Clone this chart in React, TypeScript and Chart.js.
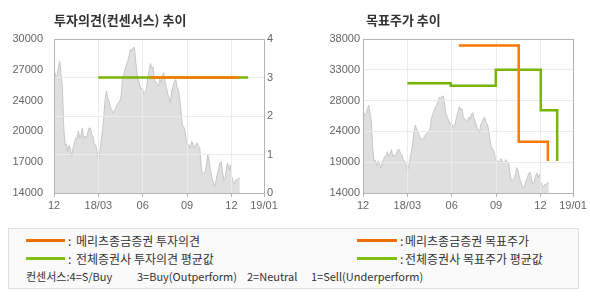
import React, { useEffect, useRef } from 'react';
import { Chart, registerables } from 'chart.js';

Chart.register(...registerables);

// ---- axis ticks (x in months since Dec 2017) ----
const X_TICKS = [0, 3, 6, 9, 12, 14.2];
const X_TICK_LABELS = ['12', '18/03', '06', '09', '12', '19/01'];
const OPINION_TICKS = [0, 1, 2, 3, 4];
const OPINION_TICK_LABELS = ['0', '1', '2', '3', '4'];
const LEFT_PRICE_TICKS = [14000, 17200, 20400, 23600, 26800, 30000];
const LEFT_PRICE_TICK_LABELS = ['14000', '17000', '20000', '24000', '27000', '30000'];
const RIGHT_PRICE_TICKS = [14000, 18800, 23600, 28400, 33200, 38000];
const RIGHT_PRICE_TICK_LABELS = ['14000', '19000', '24000', '28000', '33000', '38000'];

// ---- stock price (sampled every PRICE_STEP months starting at PRICE_START) ----
const PRICE_START = 0.025;
const PRICE_STEP = 0.0902;
const PRICES = [
  26750, 26050, 26250, 27000, 27700, 26300, 25100, 20900, 19000, 19100, 18300,
  18950, 18650, 17800, 18650, 19200, 19700, 19700, 20450, 19700, 20050, 20750,
  19700, 19900, 19700, 20250, 20750, 20750, 20050, 19900, 19000, 19000, 18300,
  17450, 18150, 19350, 20400, 21800, 23700, 24600, 23900, 23550, 22850, 22650,
  22300, 22500, 22850, 23200, 23350, 23550, 24050, 25600, 26300, 26850, 27350,
  27700, 28250, 28950, 28750, 29100, 29100, 27700, 26300, 25800, 25250, 24750,
  24950, 24250,
  24400, 24900, 25950, 26650, 27450, 27000, 27100, 25600, 25600, 25250, 25100,
  25800, 25450, 26300, 26500, 25600, 24950, 24250, 23900, 23350, 24600, 25100,
  25600, 25800, 24950, 24750, 23700, 22300, 20900, 20900, 20400, 19350, 19000,
  19000, 18650,
  19350, 19000, 18650, 19000, 19200, 18850, 18650, 16900, 15900, 16050, 16250,
  16900, 17950, 17450, 16400, 15700, 15200, 14650, 15200, 15900, 16400, 17100,
  17250, 16250, 15350, 15550, 16600, 17100, 16400, 16900, 15700, 15200, 14900,
  15350, 15350, 15550, 15550,
];

// ---- investment opinion (4=S/Buy ... 1=Sell) ----
const MERITZ_OPINION_X = [6.48, 12.5];
const MERITZ_OPINION = [3, 3];
const CONSENSUS_OPINION_X = [3.0, 13.13];
const CONSENSUS_OPINION = [3, 3];

// ---- target price (value changes at each date) ----
const MERITZ_TARGET_X = [6.48, 10.53, 12.5];
const MERITZ_TARGET = [37000, 22000, 19000];
const CONSENSUS_TARGET_X = [3.0, 5.93, 8.98, 12.02, 13.13];
const CONSENSUS_TARGET = [31100, 30700, 33200, 26900, 19000];

const ORANGE = '#ff7800';
const GREEN = '#77b500';
const LEGEND_ORANGE = '#ec6d00';
const LEGEND_GREEN = '#80c010';
const GRID = '#ebebeb';
const BORDER = '#b4b4b4';
const TICK_FONT = { family: 'Liberation Sans', size: 11 };
const TICK_COLOR = '#666';

const zip = (xs: number[], ys: number[]) => xs.map((x, i) => ({ x, y: ys[i] }));
const priceData = () => PRICES.map((y, i) => ({ x: PRICE_START + i * PRICE_STEP, y }));

const gridOverArea = {
  id: 'gridOverArea',
  afterDatasetDraw(chart: any, args: any) {
    if (args.index !== 0) return;
    Object.values(chart.scales).forEach((s: any) => {
      if (s.options.grid && s.options.grid.display) {
        chart.ctx.save();
        s.drawGrid(chart.chartArea);
        chart.ctx.restore();
      }
    });
  },
  afterDraw(chart: any) {
    const { left, top, right, bottom } = chart.chartArea;
    const ctx = chart.ctx;
    ctx.save();
    ctx.strokeStyle = BORDER;
    ctx.lineWidth = 1;
    ctx.strokeRect(Math.round(left) + 0.5, Math.round(top) + 0.5, Math.round(right - left), Math.round(bottom - top));
    ctx.restore();
  },
};

const xScale = () => ({
  type: 'linear',
  min: 0,
  max: 14.2,
  afterBuildTicks: (a: any) => {
    a.ticks = X_TICKS.map((value) => ({ value }));
  },
  afterFit: (s: any) => {
    s.height = 22;
  },
  ticks: {
    callback: (_v: any, i: number) => X_TICK_LABELS[i],
    font: TICK_FONT,
    color: TICK_COLOR,
    padding: 2,
    maxRotation: 0,
    autoSkip: false,
  },
  grid: { color: GRID, tickColor: BORDER, tickLength: 4, drawTicks: true },
  border: { display: false },
});

const areaDataset = (axis: string) => ({
  type: 'line',
  data: priceData(),
  yAxisID: axis,
  borderColor: '#c6c6c6',
  borderWidth: 1,
  backgroundColor: '#dfdfdf',
  fill: 'start',
  pointRadius: 0,
  tension: 0,
  order: 5,
});

const lineDataset = (data: any[], color: string, axis: string, order: number, stepped: any = false) => ({
  type: 'line',
  data,
  yAxisID: axis,
  borderColor: color,
  borderWidth: 2.5,
  pointRadius: 0,
  fill: false,
  stepped,
  tension: 0,
  order,
});

const leftConfig = (): any => ({
  type: 'line',
  data: {
    datasets: [
      areaDataset('y'),
      lineDataset(zip(CONSENSUS_OPINION_X, CONSENSUS_OPINION), GREEN, 'y1', 2),
      lineDataset(zip(MERITZ_OPINION_X, MERITZ_OPINION), ORANGE, 'y1', 1),
    ],
  },
  options: {
    responsive: false,
    animation: false,
    devicePixelRatio: 1,
    layout: { padding: { top: 39, left: 0, right: 0, bottom: 0 } },
    plugins: { legend: { display: false }, tooltip: { enabled: false } },
    scales: {
      x: xScale(),
      y: {
        type: 'linear',
        position: 'left',
        min: 14000,
        max: 30000,
        afterBuildTicks: (a: any) => {
          a.ticks = LEFT_PRICE_TICKS.map((value) => ({ value }));
        },
        afterFit: (s: any) => {
          s.width = 54;
        },
        ticks: {
          callback: (_v: any, i: number) => LEFT_PRICE_TICK_LABELS[i],
          font: TICK_FONT,
          color: TICK_COLOR,
          padding: 3,
        },
        grid: { display: false },
        border: { display: false },
      },
      y1: {
        type: 'linear',
        position: 'right',
        min: 0,
        max: 4,
        afterBuildTicks: (a: any) => {
          a.ticks = OPINION_TICKS.map((value) => ({ value }));
        },
        afterFit: (s: any) => {
          s.width = 31;
        },
        ticks: {
          callback: (_v: any, i: number) => OPINION_TICK_LABELS[i],
          font: TICK_FONT,
          color: TICK_COLOR,
          padding: 3,
        },
        grid: { color: GRID, drawTicks: false },
        border: { display: false },
      },
    },
  },
  plugins: [gridOverArea],
});

const rightConfig = (): any => ({
  type: 'line',
  data: {
    datasets: [
      areaDataset('y'),
      lineDataset(zip(CONSENSUS_TARGET_X, CONSENSUS_TARGET), GREEN, 'y', 2, 'before'),
      lineDataset(zip(MERITZ_TARGET_X, MERITZ_TARGET), ORANGE, 'y', 1, 'before'),
    ],
  },
  options: {
    responsive: false,
    animation: false,
    devicePixelRatio: 1,
    layout: { padding: { top: 39, left: 0, right: 17, bottom: 0 } },
    plugins: { legend: { display: false }, tooltip: { enabled: false } },
    scales: {
      x: xScale(),
      y: {
        type: 'linear',
        position: 'left',
        min: 14000,
        max: 38000,
        afterBuildTicks: (a: any) => {
          a.ticks = RIGHT_PRICE_TICKS.map((value) => ({ value }));
        },
        afterFit: (s: any) => {
          s.width = 68;
        },
        ticks: {
          callback: (_v: any, i: number) => RIGHT_PRICE_TICK_LABELS[i],
          font: TICK_FONT,
          color: TICK_COLOR,
          padding: 3,
        },
        grid: { color: GRID, drawTicks: false },
        border: { display: false },
      },
    },
  },
  plugins: [gridOverArea],
});

const KR = '"Noto Sans CJK KR", "Noto Sans", sans-serif';

const abs = (left: number, top: number, extra: any = {}) => ({
  position: 'absolute' as const,
  left,
  top,
  whiteSpace: 'nowrap' as const,
  ...extra,
});

export default function App() {
  const leftRef = useRef<HTMLCanvasElement>(null);
  const rightRef = useRef<HTMLCanvasElement>(null);

  useEffect(() => {
    const c1 = new Chart(leftRef.current as HTMLCanvasElement, leftConfig());
    const c2 = new Chart(rightRef.current as HTMLCanvasElement, rightConfig());
    return () => {
      c1.destroy();
      c2.destroy();
    };
  }, []);

  const titleStyle = { fontFamily: KR, fontWeight: 700, fontSize: 13, lineHeight: '16px', color: '#333' };
  const legendText = { fontFamily: KR, fontSize: 12, lineHeight: '14px', color: '#333' };
  const noteText = { fontFamily: KR, fontSize: 11, lineHeight: '13px', color: '#333' };

  return (
    <div style={{ position: 'absolute', left: 0, top: 0, width: 590, height: 300, background: '#fff', overflow: 'hidden' }}>
      <canvas ref={leftRef} width={295} height={215} style={{ position: 'absolute', left: 0, top: 0, width: 295, height: 215 }} />
      <canvas ref={rightRef} width={295} height={215} style={{ position: 'absolute', left: 295, top: 0, width: 295, height: 215 }} />
      <div style={abs(54, 12, titleStyle)}>투자의견(컨센서스) 추이</div>
      <div style={abs(366, 12, titleStyle)}>목표주가 추이</div>

      <div
        style={abs(8, 228, {
          width: 571,
          height: 61,
          boxSizing: 'border-box',
          border: '1px solid #e0e0e0',
          background: '#fafafa',
        })}
      />
      <div style={abs(26, 239, { width: 39, height: 3, background: LEGEND_ORANGE })} />
      <div style={abs(68, 234, legendText)}>:</div>
      <div style={abs(76, 234, legendText)}>메리츠종금증권 투자의견</div>
      <div style={abs(26, 256.5, { width: 39, height: 3, background: LEGEND_GREEN })} />
      <div style={abs(68, 251.5, legendText)}>:</div>
      <div style={abs(76, 251.5, legendText)}>전체증권사 투자의견 평균값</div>

      <div style={abs(357, 239, { width: 40, height: 3, background: LEGEND_ORANGE })} />
      <div style={abs(400, 234, legendText)}>:</div>
      <div style={abs(405, 234, legendText)}>메리츠종금증권 목표주가</div>
      <div style={abs(357, 256.5, { width: 40, height: 3, background: LEGEND_GREEN })} />
      <div style={abs(400, 251.5, legendText)}>:</div>
      <div style={abs(405, 251.5, legendText)}>전체증권사 목표주가 평균값</div>

      <div style={abs(26, 270, noteText)}>컨센서스:4=S/Buy</div>
      <div style={abs(137, 270, noteText)}>3=Buy(Outperform)</div>
      <div style={abs(247, 270, noteText)}>2=Neutral</div>
      <div style={abs(311, 270, noteText)}>1=Sell(Underperform)</div>
    </div>
  );
}
